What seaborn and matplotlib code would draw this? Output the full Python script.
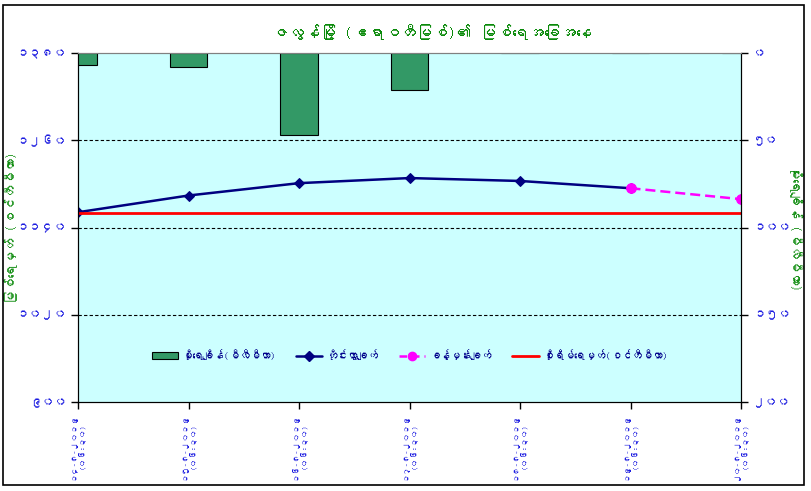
import matplotlib
matplotlib.use("Agg")
import matplotlib.pyplot as plt
import seaborn as sns
from matplotlib import font_manager
from matplotlib.ft2font import FT2Font
from matplotlib.lines import Line2D
from matplotlib.patches import Patch, Rectangle
from matplotlib.ticker import FuncFormatter, FixedLocator

# data
days = [0, 1, 2, 3, 4, 5, 6]
dates = ["၁၄-၈-၂၀၁၉", "၁၅-၈-၂၀၁၉", "၁၆-၈-၂၀၁၉", "၁၇-၈-၂၀၁၉",
         "၁၈-၈-၂၀၁၉", "၁၉-၈-၂၀၁၉", "၂၀-၈-၂၀၁၉"]
obs_time = "(၀၆:၃၀)"
rainfall = [7, 8, 47, 21, 0, 0, 0]            # mm, right axis
observed_days = [0, 1, 2, 3, 4, 5]
observed = [1161, 1184, 1201, 1208, 1204, 1194]  # cm
forecast_days = [5, 6]
forecast = [1194, 1179]
danger_level = 1160

title = "ဇလွန်မြို့ (ဧရာဝတီမြစ်)၏ မြစ်ရေအခြေအနေ"
left_label = "မြစ်ရေမှတ် (စင်တီမီတာ)"
right_label = "မိုးရေချိန် (မီလီမီတာ)"
legend_labels = ["မိုးရေချိန်(မီလီမီတာ)", "တိုင်းထွာချက်", "ခန့်မှန်းချက်",
                 "စိုးရိမ်ရေမှတ်(စင်တီမီတာ)"]


def find_myanmar_font():
    seen = set()
    for f in font_manager.fontManager.ttflist:
        if f.fname in seen:
            continue
        seen.add(f.fname)
        try:
            if 0x1000 in FT2Font(f.fname).get_charmap():
                return f.name
        except Exception:
            pass
    return None


sns.set_style("white")
mm_font = find_myanmar_font()
plt.rcParams["font.family"] = [mm_font, "DejaVu Sans"] if mm_font else ["DejaVu Sans"]

MM_DIGITS = str.maketrans("0123456789", "၀၁၂၃၄၅၆၇၈၉")
mm_fmt = FuncFormatter(lambda v, pos: str(int(round(v))).translate(MM_DIGITS))

tick_blue = "#1A1AE0"
green = "#0A8A0A"
navy = "#000080"

fig = plt.figure(figsize=(8.11, 4.91), dpi=100)
ax = fig.add_axes([78 / 811, 1 - 402 / 491, (741 - 78) / 811, (402 - 53) / 491])
ax.set_facecolor("#CCFFFF")
ax2 = ax.twinx()

# rainfall bars hanging from the top (inverted right axis)
sns.barplot(x=days, y=rainfall, ax=ax2, native_scale=True, color="#339966",
            saturation=1, width=0.335, edgecolor="black", linewidth=0.8)
ax2.set_ylim(200, 0)

# water level lines
sns.lineplot(x=observed_days, y=observed, ax=ax, color=navy, lw=1.8,
             marker="D", markersize=5.5, markeredgecolor=navy)
sns.lineplot(x=forecast_days, y=forecast, ax=ax, color="#FF00FF", lw=1.8,
             linestyle=(0, (4, 2)), marker="o", markersize=7,
             markeredgecolor="#FF00FF")
ax.axhline(danger_level, color="#FF0000", lw=2)

ax.set_ylim(900, 1380)
ax.yaxis.set_major_locator(FixedLocator([900, 1020, 1140, 1260, 1380]))
ax.yaxis.set_major_formatter(mm_fmt)
for y in [1020, 1140, 1260]:
    ax.axhline(y, color="black", lw=0.8, linestyle=(0, (3, 2)), zorder=0.5)

ax2.yaxis.set_major_locator(FixedLocator([0, 50, 100, 150, 200]))
ax2.yaxis.set_major_formatter(mm_fmt)

ax.set_xlim(0, 6)
ax.set_xticks(days)
ax.set_xticklabels([f"{d}\n{obs_time}" for d in dates], rotation=90,
                   ha="center", va="top", multialignment="center")
ax2.tick_params(axis="x", bottom=False, labelbottom=False)
ax2.set_xlabel("")

for a in (ax, ax2):
    a.tick_params(axis="both", direction="out", length=5, width=1, colors="black",
                  labelcolor=tick_blue, labelsize=9)
    for lab in a.get_yticklabels() + a.get_xticklabels():
        lab.set_fontweight("bold")
    for side in ("left", "right", "bottom"):
        a.spines[side].set_color("black")
    a.spines["top"].set_color("#808080")
ax.tick_params(axis="y", left=True, right=False)
ax.tick_params(axis="x", bottom=True, pad=3, labelsize=6)
ax2.tick_params(axis="y", right=True, left=False)

ax.set_ylabel(left_label, color=green, fontsize=9.5, fontweight="bold")
ax.yaxis.set_label_coords(-0.09, 0.5)
ax2.set_ylabel(right_label, color=green, fontsize=9.5, fontweight="bold",
               rotation=270, va="center")
ax2.yaxis.set_label_coords(1.083, 0.5)
fig.text(432 / 811, 1 - 32 / 491, title, color=green, fontsize=11.5,
         fontweight="bold", ha="center", va="center")

handles = [
    Patch(facecolor="#339966", edgecolor="black", lw=0.8),
    Line2D([], [], color=navy, lw=1.8, marker="D", markersize=5),
    Line2D([], [], color="#FF00FF", lw=1.8, linestyle=(0, (3, 2)), marker="o",
           markersize=6),
    Line2D([], [], color="#FF0000", lw=2),
]
leg = ax2.legend(handles, legend_labels, loc="center", bbox_to_anchor=(0.5, 0.135),
                 ncol=4, frameon=False, fontsize=7.5, handlelength=2.5,
                 columnspacing=2.0, handletextpad=0.4)
for t in leg.get_texts():
    t.set_color("#00008B")
    t.set_fontweight("bold")

fig.add_artist(Rectangle((3 / 811, 1 - 485 / 491), 801 / 811, 480 / 491,
                         transform=fig.transFigure, fill=False,
                         edgecolor="black", lw=1.2))

fig.savefig("out.png", dpi=100)
